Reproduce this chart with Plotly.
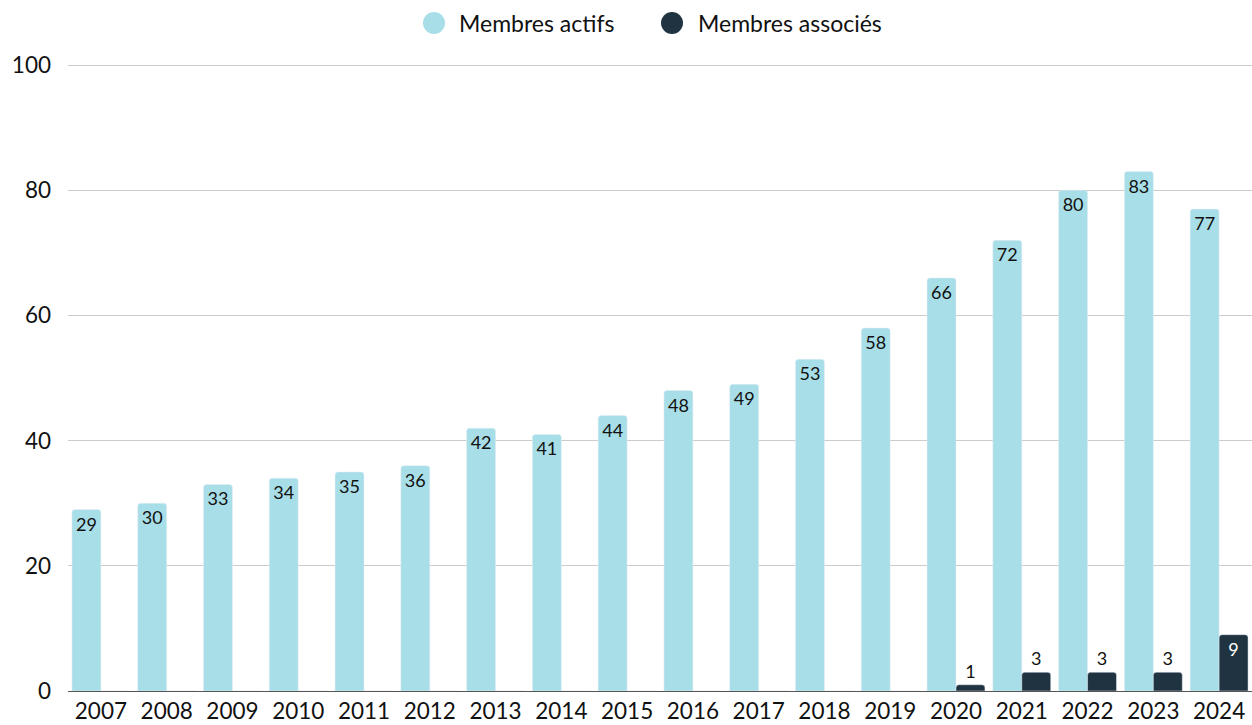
import plotly.graph_objects as go

years = [str(y) for y in range(2007, 2025)]
actifs = [29, 30, 33, 34, 35, 36, 42, 41, 44, 48, 49, 53, 58, 66, 72, 80, 83, 77]
associes = [0, 0, 0, 0, 0, 0, 0, 0, 0, 0, 0, 0, 0, 1, 3, 3, 3, 9]
series_names = ["Membres actifs", "Membres associés"]

LIGHT = "#A8DEE7"
DARK = "#1F3340"
FONT = "Lato, 'Open Sans', sans-serif"

fig = go.Figure()
fig.add_trace(go.Bar(
    x=years, y=actifs, name=series_names[0], marker_color=LIGHT,
    text=[str(v) for v in actifs], textposition="inside", insidetextanchor="end",
    insidetextfont=dict(color="#111", size=18, family=FONT),
    textangle=0, showlegend=False, cliponaxis=False,
))
fig.add_trace(go.Bar(
    x=years, y=associes, name=series_names[1], marker_color=DARK,
    text=[str(v) if v else "" for v in associes],
    textposition=["inside" if v >= 5 else "outside" for v in associes],
    insidetextanchor="end",
    insidetextfont=dict(color="white", size=18, family=FONT),
    outsidetextfont=dict(color="#111", size=18, family=FONT),
    textangle=0, showlegend=False, cliponaxis=False,
))

# custom legend with large circles
W, L, H = 1184, 68, 629
legend_items = [(series_names[0], LIGHT, 434, 457), (series_names[1], DARK, 672, 696)]
for name, col, cx, tx in legend_items:
    ax = (cx - L) / W
    ay = (691 - 23) / H
    fig.add_shape(type="circle", xref="paper", yref="paper",
                  xsizemode="pixel", ysizemode="pixel", xanchor=ax, yanchor=ay,
                  x0=-11, x1=11, y0=-11, y1=11, fillcolor=col, line_width=0)
    fig.add_annotation(xref="paper", yref="paper", x=(tx - L) / W, y=ay,
                       xanchor="left", yanchor="middle", showarrow=False,
                       text=name, font=dict(size=23, family=FONT, color="#111"))

fig.update_layout(
    width=1252, height=725,
    margin=dict(l=68, r=0, t=62, b=34),
    paper_bgcolor="white", plot_bgcolor="white",
    barmode="group", bargap=0.12, bargroupgap=0.0,
    barcornerradius=3, showlegend=False,
    font=dict(family=FONT, color="#111", size=20),
)
fig.update_xaxes(showgrid=False, showline=True, linecolor="#555", linewidth=1,
                 tickfont=dict(size=22.5, family=FONT, color="#111"), ticks="",
                 fixedrange=True)
fig.update_yaxes(range=[0, 100.5], tickvals=[0, 20, 40, 60, 80, 100],
                 showgrid=True, gridcolor="#cccccc",
                 gridwidth=1, zeroline=False, showline=False, ticks="",
                 tickfont=dict(size=22.5, family=FONT, color="#111"), ticklabelstandoff=16)

fig.write_html("out.html")
